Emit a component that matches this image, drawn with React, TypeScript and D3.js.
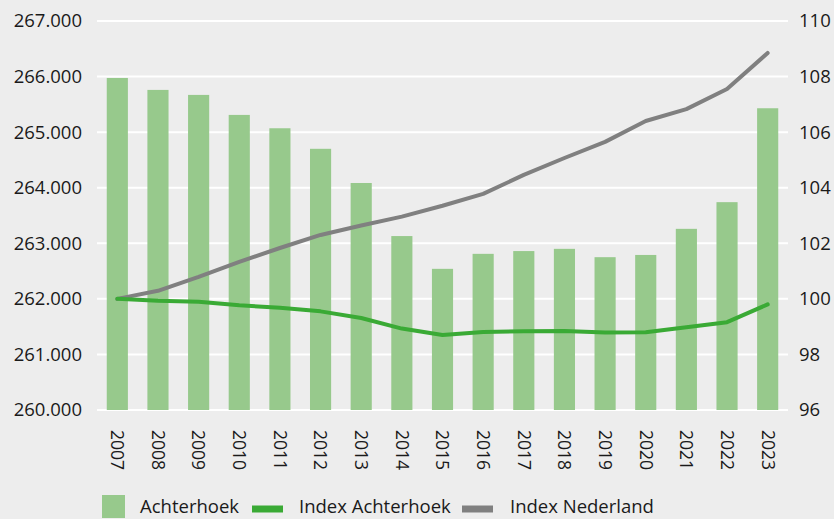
import React from "react";
import * as d3 from "d3";

const years = ["2007","2008","2009","2010","2011","2012","2013","2014","2015","2016","2017","2018","2019","2020","2021","2022","2023"];
const achterhoek = [265975, 265760, 265670, 265310, 265070, 264700, 264085, 263130, 262540, 262810, 262860, 262900, 262750, 262790, 263260, 263740, 265430];
const indexAchterhoek = [100, 99.93, 99.9, 99.77, 99.68, 99.55, 99.31, 98.93, 98.7, 98.81, 98.83, 98.84, 98.79, 98.8, 98.98, 99.16, 99.8];
const indexNederland = [100, 100.29, 100.79, 101.33, 101.83, 102.3, 102.64, 102.96, 103.35, 103.78, 104.46, 105.07, 105.65, 106.4, 106.83, 107.55, 108.85];
const leftTicks = [260000, 261000, 262000, 263000, 264000, 265000, 266000, 267000];
const rightTicks = [96, 98, 100, 102, 104, 106, 108, 110];

const W = 834, H = 519;
const left = 97, right = 788, top = 21, bottom = 410;
const font = "'Open Sans', 'DejaVu Sans', sans-serif";

export default function App() {
  const x = d3.scaleBand().domain(years).range([left, right]).paddingInner(0.48).paddingOuter(0.24);
  const yL = d3.scaleLinear().domain([260000, 267000]).range([bottom, top]);
  const yR = d3.scaleLinear().domain([96, 110]).range([bottom, top]);
  const cx = (y: string) => (x(y) as number) + x.bandwidth() / 2;
  const line = d3.line<number>().x((_, i) => cx(years[i])).y((d) => yR(d));
  const fmtL = (v: number) => (v / 1000).toFixed(3);
  return (
    <svg width={W} height={H} style={{ position: "absolute", left: 0, top: 0, background: "#ededed" }}>
      <rect x={0} y={0} width={W} height={H} fill="#ededed" />
      {leftTicks.map((t) => (
        <line key={t} x1={left} x2={right} y1={yL(t)} y2={yL(t)} stroke="#ffffff" strokeWidth={2} />
      ))}
      {achterhoek.map((v, i) => (
        <rect key={years[i]} x={x(years[i])} y={yL(v)} width={x.bandwidth()} height={bottom - yL(v)} fill="#97c98c" />
      ))}
      <path d={line(indexNederland) || ""} fill="none" stroke="#808080" strokeWidth={4} strokeLinejoin="round" strokeLinecap="round" />
      <path d={line(indexAchterhoek) || ""} fill="none" stroke="#3aaa35" strokeWidth={4} strokeLinejoin="round" strokeLinecap="round" />
      {leftTicks.map((t) => (
        <text key={t} x={82} y={yL(t)} dy="0.35em" textAnchor="end" fontFamily={font} fontSize={18.5} fill="#1a1a1a">{fmtL(t)}</text>
      ))}
      {rightTicks.map((t) => (
        <text key={t} x={799} y={yR(t)} dy="0.35em" textAnchor="start" fontFamily={font} fontSize={18.5} fill="#1a1a1a">{t}</text>
      ))}
      {years.map((yr) => (
        <text key={yr} transform={`translate(${cx(yr)},430) rotate(90)`} dy="0.35em" textAnchor="start" fontFamily={font} fontSize={17.5} fill="#1a1a1a">{yr}</text>
      ))}
      <g fontFamily={font} fontSize={18.5} fill="#1a1a1a">
        <rect x={102} y={495} width={23} height={23} fill="#97c98c" />
        <text x={140} y={507} dy="0.35em">Achterhoek</text>
        <line x1={252} x2={283} y1={509} y2={509} stroke="#3aaa35" strokeWidth={7} />
        <text x={299} y={507} dy="0.35em">Index Achterhoek</text>
        <line x1={462} x2={493} y1={509} y2={509} stroke="#808080" strokeWidth={7} />
        <text x={510} y={507} dy="0.35em">Index Nederland</text>
      </g>
    </svg>
  );
}
